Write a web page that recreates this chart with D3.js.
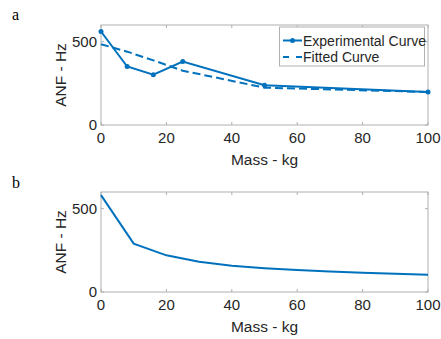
<!DOCTYPE html>
<html>
<head>
<meta charset="utf-8">
<script src="https://cdn.jsdelivr.net/npm/d3@7"></script>
<style>
  body { margin: 0; background: #fff; }
  svg text { font-family: "Liberation Sans", Arial, sans-serif; fill: #262626; }
</style>
</head>
<body>
<svg id="chart" width="441" height="339"></svg>
<script>
// panel a
const massA = [0, 8, 16, 25, 50, 100];
const experimental = [561, 351, 302, 381, 239, 198];
const fitted = [485, 440, 388, 326, 224, 198];
// panel b
const massB = [0, 10, 20, 30, 40, 50, 60, 70, 80, 90, 100];
const anfB = [581, 290, 220, 182, 158, 143, 132, 123, 116, 110, 104];

const xTicks = [0, 20, 40, 60, 80, 100];
const yTicks = [0, 500];
const legendLabels = ['Experimental Curve', 'Fitted Curve'];

const blue = '#0072BD';
const axisGrey = '#b0b0b0';
const svg = d3.select('#chart');

function drawPanel(top, letter, letterY) {
  const left = 101, right = 428, height = 100;
  const x = d3.scaleLinear().domain([0, 100]).range([left, right]);
  const y = d3.scaleLinear().domain([0, 600]).range([top + height, top]);
  const g = svg.append('g');

  // box
  g.append('rect')
   .attr('x', left).attr('y', top)
   .attr('width', right - left).attr('height', height)
   .attr('fill', 'none').attr('stroke', axisGrey).attr('stroke-width', 1);

  // ticks inside, all four sides
  const tl = 3;
  xTicks.forEach(t => {
    g.append('line').attr('x1', x(t)).attr('x2', x(t))
     .attr('y1', top + height).attr('y2', top + height - tl).attr('stroke', axisGrey);
    g.append('line').attr('x1', x(t)).attr('x2', x(t))
     .attr('y1', top).attr('y2', top + tl).attr('stroke', axisGrey);
    g.append('text').attr('x', x(t)).attr('y', top + height + 18)
     .attr('text-anchor', 'middle').attr('font-size', 15).text(t);
  });
  yTicks.forEach(t => {
    g.append('line').attr('x1', left).attr('x2', left + tl)
     .attr('y1', y(t)).attr('y2', y(t)).attr('stroke', axisGrey);
    g.append('line').attr('x1', right).attr('x2', right - tl)
     .attr('y1', y(t)).attr('y2', y(t)).attr('stroke', axisGrey);
    g.append('text').attr('x', left - 4).attr('y', y(t) + 5)
     .attr('text-anchor', 'end').attr('font-size', 15).text(t);
  });

  g.append('text').attr('x', (left + right) / 2).attr('y', top + height + 40)
   .attr('text-anchor', 'middle').attr('font-size', 15.5).text('Mass - kg');
  g.append('text')
   .attr('transform', `translate(66,${top + height / 2}) rotate(-90)`)
   .attr('text-anchor', 'middle').attr('font-size', 15.5).text('ANF - Hz');

  svg.append('text').attr('x', 12).attr('y', letterY)
   .style('font-family', '"Liberation Serif", "Times New Roman", serif')
   .attr('font-size', 16).style('fill', '#000').text(letter);

  return { g, x, y };
}

// panel a
const a = drawPanel(25, 'a', 20);
const lineA = d3.line().x(d => a.x(d[0])).y(d => a.y(d[1]));

a.g.append('path')
 .datum(massA.map((m, i) => [m, fitted[i]]))
 .attr('d', lineA).attr('fill', 'none').attr('stroke', blue)
 .attr('stroke-width', 2).attr('stroke-dasharray', '8,4');

a.g.append('path')
 .datum(massA.map((m, i) => [m, experimental[i]]))
 .attr('d', lineA).attr('fill', 'none').attr('stroke', blue).attr('stroke-width', 2);

a.g.selectAll('circle.pt')
 .data(massA.map((m, i) => [m, experimental[i]]))
 .enter().append('circle')
 .attr('class', 'pt')
 .attr('cx', d => a.x(d[0])).attr('cy', d => a.y(d[1]))
 .attr('r', 2.5).attr('fill', blue);

// legend
const lg = a.g.append('g');
lg.append('rect').attr('x', 279.5).attr('y', 27).attr('width', 145).attr('height', 39)
  .attr('fill', '#fff').attr('stroke', axisGrey);
lg.append('line').attr('x1', 283).attr('x2', 302).attr('y1', 40.5).attr('y2', 40.5)
  .attr('stroke', blue).attr('stroke-width', 2);
lg.append('circle').attr('cx', 292.5).attr('cy', 40.5).attr('r', 2.5).attr('fill', blue);
lg.append('line').attr('x1', 283).attr('x2', 302).attr('y1', 57).attr('y2', 57)
  .attr('stroke', blue).attr('stroke-width', 2).attr('stroke-dasharray', '6,7');
legendLabels.forEach((t, i) => {
  lg.append('text').attr('x', 303).attr('y', 45.5 + i * 16.5)
    .attr('font-size', 14).text(t);
});

// panel b
const b = drawPanel(192, 'b', 188);
const lineB = d3.line().x(d => b.x(d[0])).y(d => b.y(d[1]));
b.g.append('path')
 .datum(massB.map((m, i) => [m, anfB[i]]))
 .attr('d', lineB).attr('fill', 'none').attr('stroke', blue).attr('stroke-width', 2);
</script>
</body>
</html>
